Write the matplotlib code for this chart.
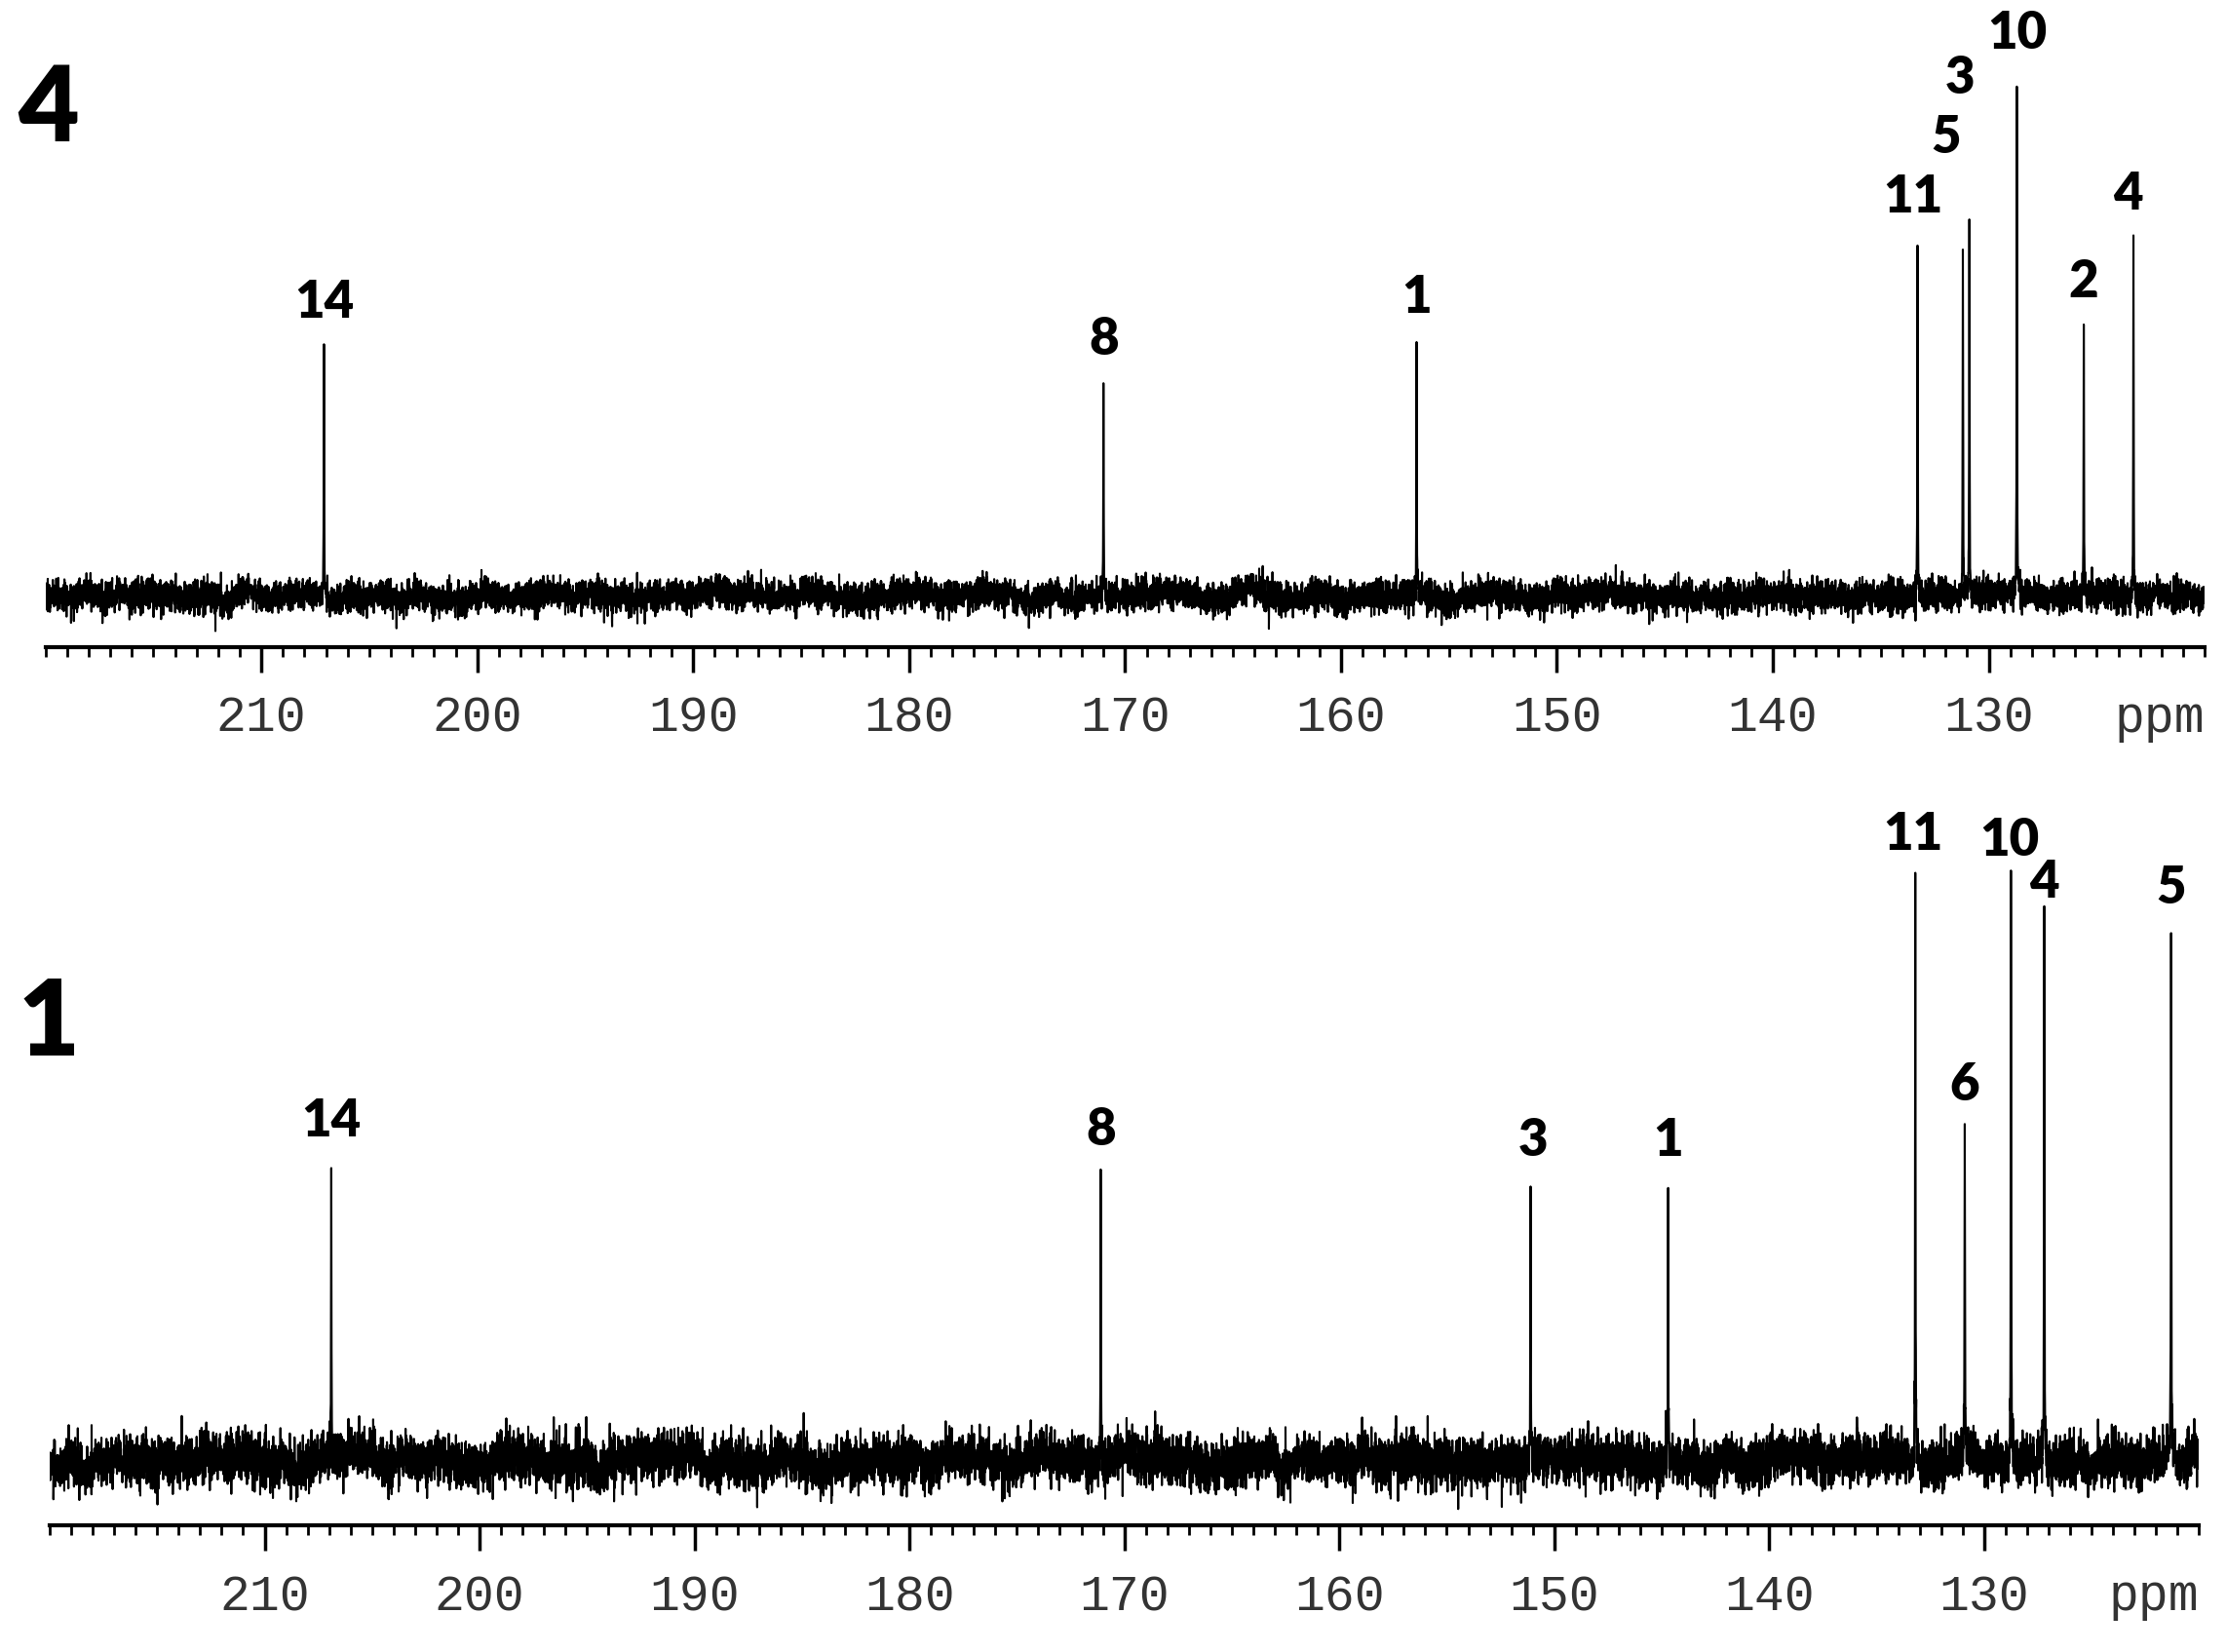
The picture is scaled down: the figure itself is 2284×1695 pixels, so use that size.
import numpy as np
import matplotlib
matplotlib.use('Agg')
import matplotlib.pyplot as plt
from matplotlib.ticker import MultipleLocator

# 13C spectra: shifts (ppm), peak heights above baseline (arbitrary units), assignments
top_shifts = [207.1, 171.0, 156.5, 133.3, 131.2, 130.9, 128.7, 125.6, 123.3]
top_heights = [176, 150, 179, 247, 242, 265, 359, 191, 249]
top_labels = ['14', '8', '1', '11', '5', '3', '10', '2', '4']

bottom_shifts = [206.9, 171.1, 151.1, 144.7, 133.2, 130.9, 128.75, 127.2, 121.3]
bottom_heights = [206, 205, 193, 192, 414, 237, 409, 384, 371]
bottom_labels = ['14', '8', '3', '1', '11', '6', '10', '4', '5']

tick_values = [210, 200, 190, 180, 170, 160, 150, 140, 130]

# label placement (ppm, height in axis units) - layout only
top_label_pos = [(207.1, 243), (171.0, 217), (156.5, 246), (133.5, 317), (132.0, 359),
                 (131.35, 401), (128.7, 432), (125.6, 257), (123.55, 319)]
bottom_label_pos = [(206.9, 285), (171.1, 279), (151.0, 271), (144.7, 271), (133.3, 487),
                    (130.9, 310), (128.8, 483), (127.2, 453), (121.3, 449)]

REF_W, REF_H = 1568.0, 1164.0
LABEL_FONT = 'Lato'
TICK_FONT = 'Liberation Mono'


def ref_rect(left, right, top, bottom):
    return [left / REF_W, 1 - bottom / REF_H, (right - left) / REF_W, (bottom - top) / REF_H]


def spectrum(shifts, heights, baseline, sigma, seed):
    x = np.linspace(220, 120, 14000)
    x = np.sort(np.concatenate([x, shifts]))[::-1]
    # baseline noise texture (white noise plus a slow wander)
    rng = np.random.default_rng(seed)
    white = rng.standard_normal(x.size)
    slow = np.convolve(rng.standard_normal(x.size), np.ones(120) / np.sqrt(120), mode='same')
    noise = sigma * (0.92 * white + 0.3 * slow)
    noise[np.isin(x, shifts)] = 0.0  # keep peak apexes at their read heights
    y = baseline + noise
    for s, h in zip(shifts, heights):
        y += h / (1 + ((x - s) / 0.012) ** 2)
    return x, y


def draw_panel(ax, shifts, heights, labels, label_pos, baseline, sigma, ymax, seed):
    x, y = spectrum(shifts, heights, baseline, sigma, seed)
    ax.plot(x, y, color='black', lw=1.5)
    ax.set_xlim(220, 120)
    ax.set_ylim(0, ymax)
    for sp in ['top', 'left', 'right']:
        ax.spines[sp].set_visible(False)
    ax.spines['bottom'].set_linewidth(3)
    ax.set_yticks([])
    ax.set_xticks(tick_values)
    ax.xaxis.set_minor_locator(MultipleLocator(1))
    ax.tick_params(axis='x', which='major', direction='out', length=19, width=2.5,
                   pad=16, labelsize=37, labelfontfamily=TICK_FONT, labelcolor='#333333')
    ax.tick_params(axis='x', which='minor', direction='out', length=7, width=2)
    ax.annotate('ppm', xy=(120, 0), xycoords='data', xytext=(0, -(19 + 16)),
                textcoords='offset points', ha='right', va='top', fontsize=37,
                family=TICK_FONT, color='#333333', annotation_clip=False)
    for lab, (lx, ly) in zip(labels, label_pos):
        ax.text(lx, ly, lab, ha='center', va='center', fontsize=38,
                fontweight='heavy', family=LABEL_FONT, color='black')


fig = plt.figure(figsize=(22.84, 16.95), dpi=100)
fig.patch.set_facecolor('white')

ax_top = fig.add_axes(ref_rect(32, 1553, 0, 456))
draw_panel(ax_top, top_shifts, top_heights, top_labels, top_label_pos,
           baseline=36, sigma=6.0, ymax=456, seed=4)

ax_bot = fig.add_axes(ref_rect(35, 1549, 560, 1075))
draw_panel(ax_bot, bottom_shifts, bottom_heights, bottom_labels, bottom_label_pos,
           baseline=46, sigma=9.5, ymax=515, seed=1)

fig.text(34 / REF_W, 1 - 78 / REF_H, '4', ha='center', va='center', fontsize=78,
         fontweight='heavy', family=LABEL_FONT)
fig.text(34 / REF_W, 1 - 722 / REF_H, '1', ha='center', va='center', fontsize=78,
         fontweight='heavy', family=LABEL_FONT)

fig.savefig('out.png', dpi=100, facecolor='white')
plt.close(fig)
